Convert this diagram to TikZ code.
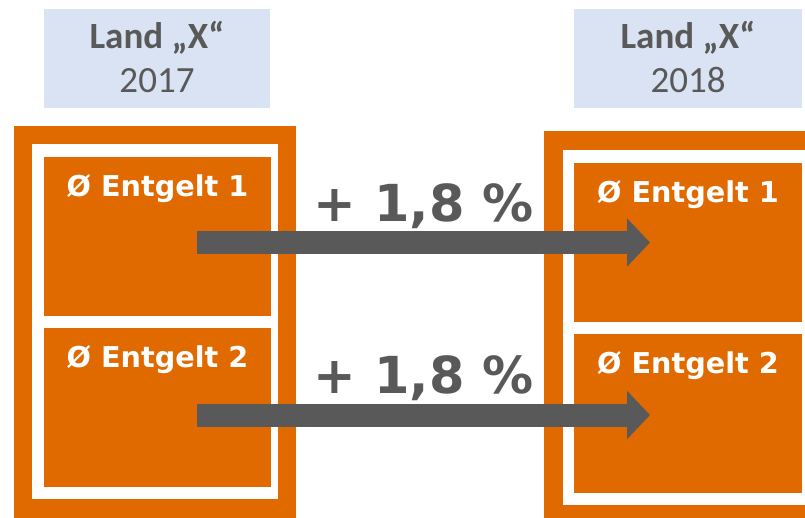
\documentclass[tikz,border=0pt]{standalone}
\usepackage{fontspec}
\setmainfont{Carlito}
\newfontfamily\boxfont{DejaVu Sans}
\usetikzlibrary{arrows.meta}
\definecolor{orng}{HTML}{E06900}
\definecolor{gry}{HTML}{595959}
\definecolor{lblue}{HTML}{DAE3F3}
\tikzset{
  rectnode/.style={inner sep=0pt, outer sep=0pt, anchor=north west},
  frameo/.style={rectnode, fill=orng},
  framew/.style={rectnode, fill=white},
  valbox/.style={rectnode, fill=orng},
  labbox/.style={rectnode, fill=lblue},
  labbold/.style={anchor=base, text=gry, font=\fontsize{37}{40}\selectfont\bfseries, inner sep=0pt},
  labreg/.style={anchor=base, text=gry, font=\fontsize{37}{40}\selectfont, inner sep=0pt},
  valtxt/.style={anchor=base, text=white, font=\boxfont\fontsize{28.7}{32}\selectfont\bfseries, inner sep=0pt},
  pcttxt/.style={anchor=base, text=gry, font=\boxfont\fontsize{51}{56}\selectfont\bfseries, inner sep=0pt},
  growarrow/.style={draw=gry, line width=23pt, -{Triangle[length=23pt,width=47pt]}}
}
\begin{document}
\begin{tikzpicture}[x=1pt,y=-1pt]
\useasboundingbox (0,0) rectangle (805,518);
\clip (0,0) rectangle (805,518);
% year labels
\node[labbox, minimum width=226, minimum height=99] (lab17) at (44,9) {};
\node[labbox, minimum width=228, minimum height=99] (lab18) at (574,9) {};
\node[labbold] (t17a) at (157,49) {Land „X“};
\node[labreg] (t17b) at (157,93) {2017};
\node[labbold] (t18a) at (688,49) {Land „X“};
\node[labreg] (t18b) at (688,93) {2018};
% left structure
\node[frameo, minimum width=282, minimum height=400] (lo) at (14,126) {};
\node[framew, minimum width=246, minimum height=355] (lw) at (32,144) {};
\node[valbox, minimum width=227, minimum height=159] (l1) at (44,157) {};
\node[valbox, minimum width=227, minimum height=159] (l2) at (44,328) {};
\node[valtxt] (l1t) at (157.5,197) {Ø Entgelt 1};
\node[valtxt] (l2t) at (157.5,367) {Ø Entgelt 2};
% right structure
\node[frameo, minimum width=270, minimum height=400] (ro) at (544,131) {};
\node[framew, minimum width=250, minimum height=355] (rw) at (563,150) {};
\node[valbox, minimum width=228, minimum height=159] (r1) at (574,163) {};
\node[valbox, minimum width=228, minimum height=159] (r2) at (574,334) {};
\node[valtxt] (r1t) at (688,203) {Ø Entgelt 1};
\node[valtxt] (r2t) at (688,373) {Ø Entgelt 2};
% arrows
\coordinate (a1s) at (197,242.5);
\coordinate (a1e) at (650,242.5);
\coordinate (a2s) at (197,415);
\coordinate (a2e) at (650,415);
\draw[growarrow] (a1s) -- (a1e);
\draw[growarrow] (a2s) -- (a2e);
\node[pcttxt] (p1) at (423.5,222) {+ 1,8 \%};
\node[pcttxt] (p2) at (423.5,393) {+ 1,8 \%};
\end{tikzpicture}
\end{document}
